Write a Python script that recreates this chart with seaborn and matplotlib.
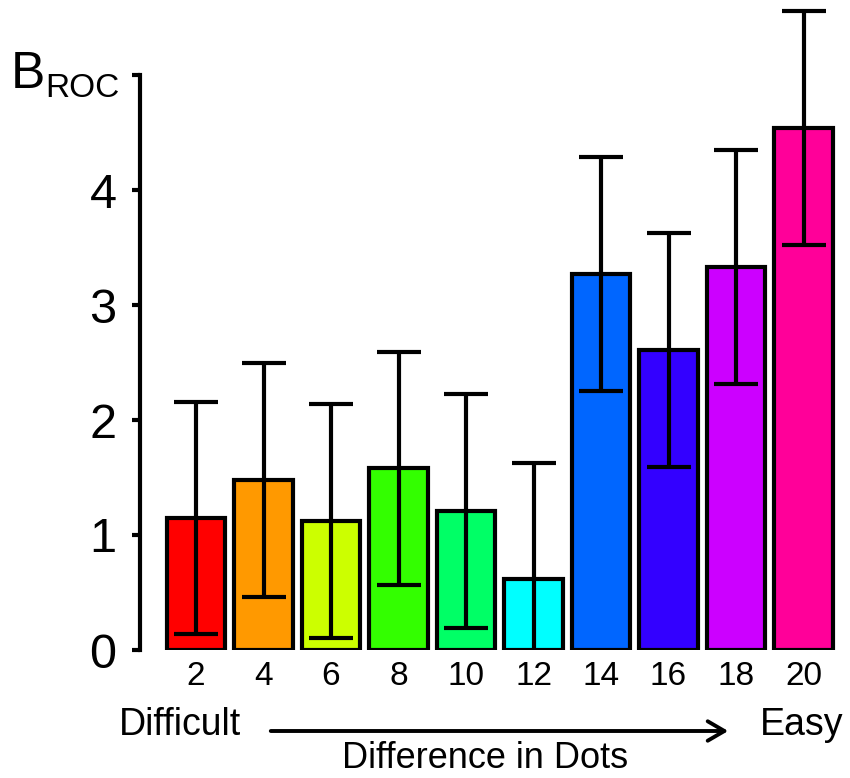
import matplotlib
matplotlib.use("Agg")
import matplotlib.pyplot as plt
import seaborn as sns
import pandas as pd

categories = ["2", "4", "6", "8", "10", "12", "14", "16", "18", "20"]
values = [1.15, 1.48, 1.12, 1.58, 1.21, 0.62, 3.27, 2.61, 3.33, 4.54]
errors = [1.01, 1.02, 1.015, 1.015, 1.015, 1.01, 1.02, 1.015, 1.015, 1.015]
colors = ["#FF0000", "#FF9900", "#CCFF00", "#33FF00", "#00FF66",
          "#00FFFF", "#0066FF", "#3300FF", "#CC00FF", "#FF0099"]
ytick_vals = [0, 1, 2, 3, 4, 5]
ytick_labels = ["0", "1", "2", "3", "4", ""]

sns.set_theme(style="white")
plt.rcParams["font.family"] = ["Liberation Sans", "DejaVu Sans"]
plt.rcParams["text.color"] = "black"

df = pd.DataFrame({"dots": categories, "B": values})

W, H = 850, 778
fig = plt.figure(figsize=(W / 100, H / 100), dpi=100)
ax = fig.add_axes([140 / W, (778 - 650) / H, (844 - 140) / W, 644 / H])

sns.barplot(data=df, x="dots", y="B", hue="dots", order=categories,
            hue_order=categories, palette=colors, legend=False,
            width=0.86, edgecolor="black", linewidth=3, saturation=1,
            errorbar=None, ax=ax)

ax.errorbar(range(len(categories)), values, yerr=errors, fmt="none",
            ecolor="black", elinewidth=3, capsize=16, capthick=3, zorder=5)

ax.set_xlim(-0.83, 9.6)
ax.set_ylim(0, 5.6)
for s in ["top", "right", "bottom"]:
    ax.spines[s].set_visible(False)
ax.spines["left"].set_bounds(0, 5)
ax.spines["left"].set_linewidth(3)
ax.spines["left"].set_color("black")
ax.set_yticks(ytick_vals)
ax.set_yticklabels(ytick_labels)
ax.tick_params(axis="y", direction="out", length=6, width=3, pad=11,
               labelsize=35, left=True, colors="black", labelcolor="black")
ax.tick_params(axis="x", length=0, pad=8, labelsize=24, labelcolor="black")
ax.set_xlabel("")
ax.set_ylabel("")

# Y label B_ROC
fig.text(11 / W, 1 - 88 / H, "B", fontsize=37, ha="left", va="baseline")
fig.text(45 / W, 1 - 97 / H, "ROC", fontsize=24, ha="left", va="baseline")

# Bottom annotations
fig.text(180 / W, 1 - 725 / H, "Difficult", fontsize=27, ha="center", va="center")
fig.text(802 / W, 1 - 725 / H, "Easy", fontsize=27, ha="center", va="center")
fig.text(485 / W, 1 - 758 / H, "Difference in Dots", fontsize=26, ha="center", va="center")
fig.add_artist(matplotlib.patches.FancyArrowPatch(
    (268 / W, 1 - 731 / H), (731 / W, 1 - 731 / H), transform=fig.transFigure,
    arrowstyle="->,head_length=12,head_width=7", mutation_scale=1,
    linewidth=2.8, color="black"))

fig.savefig("out.png", dpi=100)
